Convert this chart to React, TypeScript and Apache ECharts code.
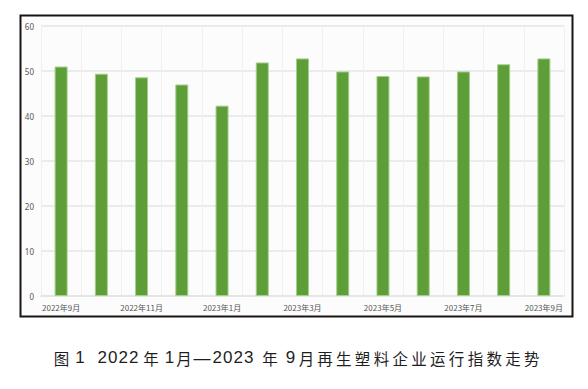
import React, { useEffect, useRef } from "react";
import * as echarts from "echarts";

const categories = [
  "2022年9月", "2022年10月", "2022年11月", "2022年12月", "2023年1月", "2023年2月",
  "2023年3月", "2023年4月", "2023年5月", "2023年6月", "2023年7月", "2023年8月", "2023年9月",
];
const indexValues = [51.0, 49.4, 48.6, 47.0, 42.3, 51.9, 52.8, 49.9, 48.9, 48.8, 49.9, 51.5, 52.8];
const captionHead = ["图", "1", "2", "0", "2", "2", "年", "1", "月", "—", "2", "0", "2", "3", "年", "9", "月"];
const captionHeadCenters = [61.5, 80, 102.3, 112.8, 123.3, 133.8, 151, 169.5, 184, 202, 217.3, 227.8, 238.3, 248.8, 270, 290.5, 306.5];
const captionTail = "再生塑料企业运行指数走势";

function captionElements() {
  const els: any[] = [];
  const y = 357.5;
  const push = (ch: string, cx: number) => {
    const isLatin = /[0-9—]/.test(ch);
    els.push({
      type: "text",
      x: cx,
      y: ch === "—" ? y + 0.5 : y,
      style: {
        text: ch,
        fontSize: isLatin ? 17 : 15.5,
        fontFamily: isLatin ? "Liberation Sans" : "Noto Sans CJK SC",
        fill: "#1e1e1e",
        align: "center",
        verticalAlign: "middle",
      },
    });
  };
  captionHead.forEach((ch, i) => push(ch, captionHeadCenters[i]));
  Array.from(captionTail).forEach((ch, i) => push(ch, 325 + i * 18.8));
  return els;
}

export default function App() {
  const ref = useRef<HTMLDivElement>(null);
  useEffect(() => {
    if (!ref.current) return;
    const chart = echarts.init(ref.current, null, { renderer: "svg" });
    chart.setOption({
      animation: false,
      backgroundColor: "#ffffff",
      graphic: [
        {
          type: "rect",
          z: -10,
          shape: { x: 20.5, y: 15.5, width: 552, height: 301 },
          style: { fill: "#fcfcfc", stroke: "#1a1414", lineWidth: 2 },
        },
        ...captionElements(),
      ],
      grid: { left: 41, right: 24, top: 26, bottom: 93, containLabel: false },
      xAxis: {
        type: "category",
        data: categories,
        axisLine: { show: true, lineStyle: { color: "#e4e4e4", width: 1.5 } },
        axisTick: { show: false },
        axisLabel: {
          interval: 1,
          margin: 7,
          fontSize: 8,
          color: "#555555",
          fontFamily: "Noto Sans CJK SC",
        },
        splitLine: { show: true, interval: 0, lineStyle: { color: "#f0f0f0", width: 1 } },
      },
      yAxis: {
        type: "value",
        min: 0,
        max: 60,
        interval: 10,
        axisLine: { show: false },
        axisTick: { show: false },
        axisLabel: { margin: 7, fontSize: 8, color: "#555555", fontFamily: "Noto Sans" },
        splitLine: { lineStyle: { color: "#e6e6e6", width: 1.5 } },
      },
      series: [
        {
          type: "bar",
          data: indexValues,
          barWidth: 13,
          itemStyle: { color: "#5d9e38", borderColor: "#a4cf8a", borderWidth: 1 },
        },
      ],
    });
    return () => chart.dispose();
  }, []);
  return (
    <div
      ref={ref}
      style={{ position: "absolute", left: 0, top: 0, width: 588, height: 389 }}
    />
  );
}
